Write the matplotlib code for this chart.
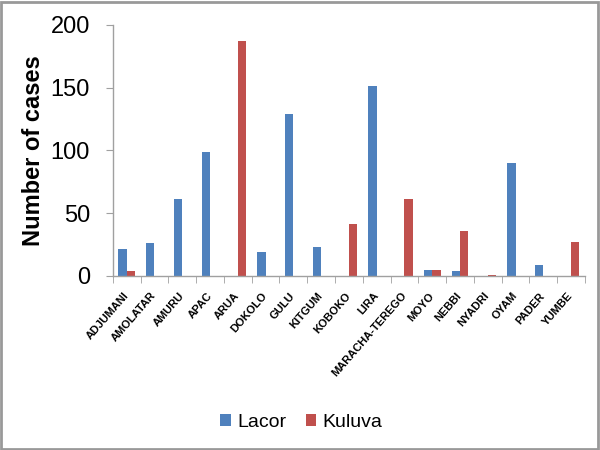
import matplotlib
matplotlib.use("Agg")
import matplotlib.pyplot as plt
import numpy as np
from matplotlib.patches import Rectangle

districts = ["ADJUMANI", "AMOLATAR", "AMURU", "APAC", "ARUA", "DOKOLO", "GULU",
             "KITGUM", "KOBOKO", "LIRA", "MARACHA-TEREGO", "MOYO", "NEBBI",
             "NYADRI", "OYAM", "PADER", "YUMBE"]
lacor = [21, 26, 61, 99, 0, 19, 129, 23, 0, 151, 0, 5, 4, 0, 90, 9, 0]
kuluva = [4, 0, 0, 0, 187, 0, 0, 0, 41, 0, 61, 5, 36, 1, 0, 0, 27]
series_names = ["Lacor", "Kuluva"]
yticks = [0, 50, 100, 150, 200]

plt.rcParams['font.family'] = ['Liberation Sans', 'DejaVu Sans']

fig = plt.figure(figsize=(6, 4.5), dpi=100)
ax = fig.add_axes([0.188, 0.387, 0.787, 0.558])

x = np.arange(len(districts))
w = 0.3
b1 = ax.bar(x - w / 2, lacor, width=w, color="#4F81BD", label=series_names[0])
b2 = ax.bar(x + w / 2, kuluva, width=w, color="#C0504D", label=series_names[1])

ax.set_xlim(-0.5, len(districts) - 0.5)
ax.set_ylim(0, 200)
ax.set_yticks(yticks)
ax.set_yticklabels([str(v) for v in yticks], fontsize=17)
ax.set_ylabel("Number of cases", fontsize=17, fontweight="bold", labelpad=4)

ax.set_xticks(x)
ax.set_xticklabels(districts, rotation=49, ha="right", va="center",
                   rotation_mode="anchor", fontsize=8, fontweight="bold")
ax.tick_params(axis="x", length=0, pad=13)
ax.set_xticks(np.arange(len(districts) + 1) - 0.5, minor=True)
ax.tick_params(axis="x", which="minor", length=5, color="#A0A0A0", direction="out")
ax.tick_params(axis="y", length=5, color="#A0A0A0", direction="out", pad=11.5)

for s in ["top", "right"]:
    ax.spines[s].set_visible(False)
for s in ["left", "bottom"]:
    ax.spines[s].set_color("#A0A0A0")
    ax.spines[s].set_linewidth(1.0)

leg = fig.legend(handles=[b1, b2], loc="center", bbox_to_anchor=(0.502, 0.062),
                 ncol=2, frameon=False, fontsize=14, handlelength=0.55,
                 handleheight=0.55, handletextpad=0.3, columnspacing=1.0)

fig.patches.append(Rectangle((0.002, 0.002), 0.994, 0.994, transform=fig.transFigure,
                             fill=False, edgecolor="#999999", linewidth=2))

fig.savefig("out.png", dpi=100)
